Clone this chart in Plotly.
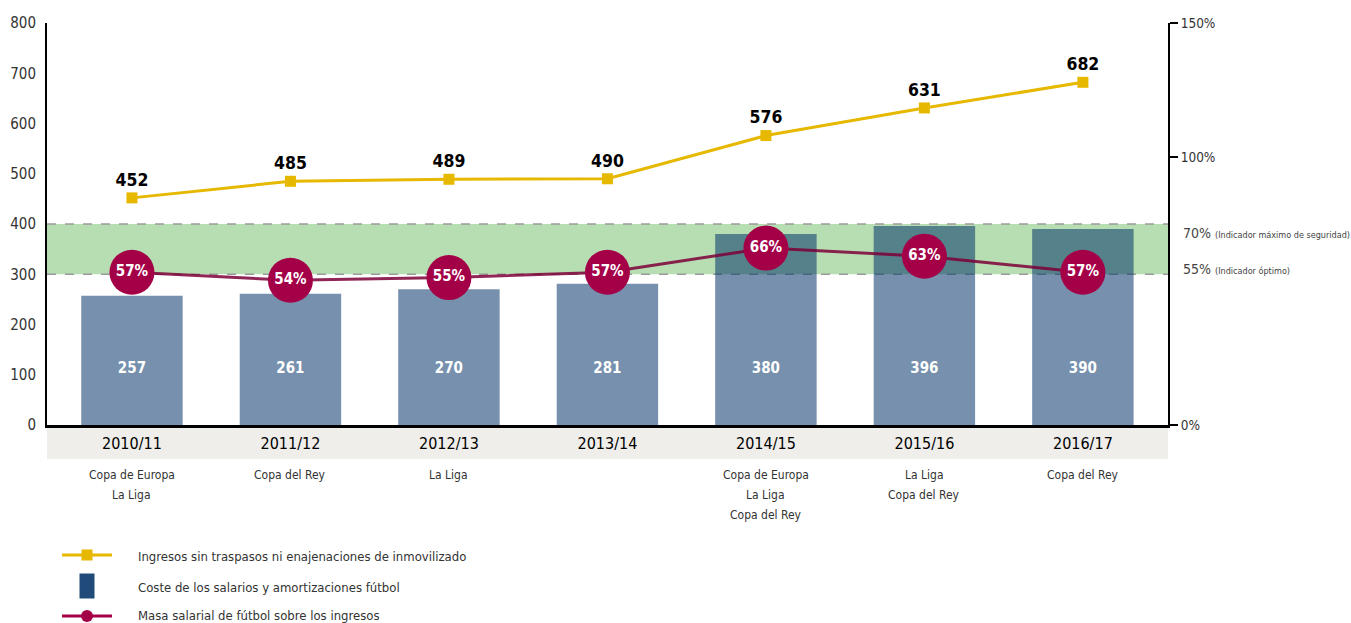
import plotly.graph_objects as go

# ---- data -------------------------------------------------------------
temporadas = ["2010/11", "2011/12", "2012/13", "2013/14", "2014/15", "2015/16", "2016/17"]
ingresos = [452, 485, 489, 490, 576, 631, 682]          # M€, left axis
coste_salarios = [257, 261, 270, 281, 380, 396, 390]     # M€, left axis
masa_salarial_pct = [57, 54, 55, 57, 66, 63, 57]         # %, right axis
titulos = [
    ["Copa de Europa", "La Liga"],
    ["Copa del Rey"],
    ["La Liga"],
    [],
    ["Copa de Europa", "La Liga", "Copa del Rey"],
    ["La Liga", "Copa del Rey"],
    ["Copa del Rey"],
]
banda_inferior, banda_superior = 300, 400   # safety band on the left scale
ticks_izq = list(range(0, 801, 100))
ticks_der = [0, 100, 150]

# ---- style ------------------------------------------------------------
FONT = "DejaVu Sans Condensed, DejaVu Sans, sans-serif"
C_BAR = "rgba(6,53,106,0.55)"
C_BAND = "#b7ddb2"
C_YELLOW = "#e6b800"
C_CIRCLE = "#a40048"
C_PLINE = "rgba(125,0,55,0.85)"
C_TEXT = "#333333"
X_RANGE = [-0.536, 6.537]
BAR_LABEL_Y = 111

W, H = 1351, 623
ML, MR, MT, MB = 47, 183, 23, 198
PW, PH = W - ML - MR, H - MT - MB

def px_x(px):
    return (px - ML) / PW

def px_y(py):
    return (H - MB - py) / PH

x = list(range(len(temporadas)))

fig = go.Figure()

# salary cost bars (translucent so the band shows through)
fig.add_trace(go.Bar(
    x=x, y=coste_salarios, marker=dict(color=C_BAR, line=dict(width=0)),
    width=0.64, yaxis="y", hoverinfo="skip",
))

# bar value labels
fig.add_trace(go.Scatter(
    x=x, y=[BAR_LABEL_Y] * len(x), mode="text",
    text=[str(v) for v in coste_salarios],
    textfont=dict(family=FONT, size=15, color="white", weight="bold"),
    hoverinfo="skip", yaxis="y",
))

# income line
fig.add_trace(go.Scatter(
    x=x, y=ingresos, mode="lines+markers+text",
    line=dict(color=C_YELLOW, width=3),
    marker=dict(symbol="square", size=11, color=C_YELLOW),
    text=[str(v) for v in ingresos], textposition="top center",
    textfont=dict(family=FONT, size=17.5, color="black", weight="bold"),
    cliponaxis=False, hoverinfo="skip", yaxis="y",
))

# wage ratio line (right axis)
fig.add_trace(go.Scatter(
    x=x, y=masa_salarial_pct, mode="lines",
    line=dict(color=C_PLINE, width=3),
    hoverinfo="skip", yaxis="y2",
))
fig.add_trace(go.Scatter(
    x=x, y=masa_salarial_pct, mode="markers+text",
    marker=dict(size=45, color=C_CIRCLE, line=dict(width=0)),
    text=[f"{v}%" for v in masa_salarial_pct], textposition="middle center",
    textfont=dict(family=FONT, size=15, color="white", weight="bold"),
    cliponaxis=False, hoverinfo="skip", yaxis="y2",
))

shapes = []
# grey strip behind the season labels
shapes.append(dict(type="rect", xref="paper", yref="paper", x0=0, x1=1,
                   y0=px_y(459), y1=0, fillcolor="#efeeea", line=dict(width=0),
                   layer="below"))
# safety band
shapes.append(dict(type="rect", xref="paper", yref="y", x0=0, x1=1,
                   y0=banda_inferior, y1=banda_superior, fillcolor=C_BAND,
                   line=dict(width=0), layer="below"))
# dashed band edges
for v in (banda_inferior, banda_superior):
    shapes.append(dict(type="line", xref="paper", yref="y", x0=0, x1=1, y0=v, y1=v,
                       line=dict(color="#9a9a9a", width=1.5, dash="dash"), layer="below"))

annotations = []
# titles won under each season
for i, lines in enumerate(titulos):
    for j, t in enumerate(lines):
        annotations.append(dict(
            x=i, xref="x", y=px_y(475 + 20 * j), yref="paper", text=t,
            showarrow=False, xanchor="center", yanchor="middle",
            font=dict(family=FONT, size=12, color=C_TEXT),
        ))

# band annotations on the right
for py, pct, lab in ((233, "70%", "(Indicador máximo de seguridad)"),
                     (269, "55%", "(Indicador óptimo)")):
    annotations.append(dict(
        x=px_x(1181), xref="paper", y=px_y(py), yref="paper",
        text=f'<span style="font-size:14px">{pct}</span> <span style="font-size:9px">{lab}</span>',
        showarrow=False, xanchor="left", yanchor="middle",
        font=dict(family=FONT, size=14, color="#444444"),
    ))

# legend
LX0, LX1, LXC = 62, 112, 87
legend_rows = [
    (556, "Ingresos sin traspasos ni enajenaciones de inmovilizado"),
    (587, "Coste de los salarios y amortizaciones fútbol"),
    (615, "Masa salarial de fútbol sobre los ingresos"),
]
shapes.append(dict(type="line", xref="paper", yref="paper",
                   x0=px_x(LX0), x1=px_x(LX1), y0=px_y(555), y1=px_y(555),
                   line=dict(color=C_YELLOW, width=3)))
shapes.append(dict(type="rect", xref="paper", yref="paper",
                   xsizemode="pixel", ysizemode="pixel",
                   xanchor=px_x(LXC), yanchor=px_y(555),
                   x0=-5.5, x1=5.5, y0=-5.5, y1=5.5,
                   fillcolor=C_YELLOW, line=dict(width=0)))
shapes.append(dict(type="rect", xref="paper", yref="paper",
                   xsizemode="pixel", ysizemode="pixel",
                   xanchor=px_x(LXC), yanchor=px_y(586),
                   x0=-7.5, x1=7.5, y0=-12.5, y1=12.5,
                   fillcolor="#1f4a7a", line=dict(width=0)))
shapes.append(dict(type="line", xref="paper", yref="paper",
                   x0=px_x(LX0), x1=px_x(LX1), y0=px_y(616), y1=px_y(616),
                   line=dict(color=C_CIRCLE, width=3)))
shapes.append(dict(type="circle", xref="paper", yref="paper",
                   xsizemode="pixel", ysizemode="pixel",
                   xanchor=px_x(LXC), yanchor=px_y(616),
                   x0=-6, x1=6, y0=-6, y1=6,
                   fillcolor=C_CIRCLE, line=dict(width=0)))
for py, t in legend_rows:
    annotations.append(dict(
        x=px_x(136), xref="paper", y=px_y(py), yref="paper", text=t,
        showarrow=False, xanchor="left", yanchor="middle",
        font=dict(family=FONT, size=13, color=C_TEXT),
    ))

fig.update_layout(
    width=W, height=H,
    margin=dict(l=ML, r=MR, t=MT, b=MB, pad=0),
    paper_bgcolor="white", plot_bgcolor="white",
    showlegend=False,
    font=dict(family=FONT, color=C_TEXT),
    xaxis=dict(
        range=X_RANGE, tickvals=x, ticktext=temporadas, automargin=False,
        showgrid=False, zeroline=False, showline=True, linecolor="black", linewidth=2.5,
        ticks="outside", ticklen=2, tickcolor="rgba(0,0,0,0)",
        tickfont=dict(family=FONT, size=16, color="black"),
    ),
    yaxis=dict(
        range=[0, 800], tickvals=ticks_izq, automargin=False,
        showgrid=False, zeroline=False, showline=True, linecolor="black", linewidth=2,
        ticks="outside", ticklen=6, tickcolor="rgba(0,0,0,0)",
        tickfont=dict(family=FONT, size=15, color=C_TEXT),
    ),
    yaxis2=dict(
        range=[0, 150], overlaying="y", side="right", automargin=False,
        tickvals=ticks_der, ticktext=[f"{v}%" for v in ticks_der],
        showgrid=False, zeroline=False, showline=True, linecolor="black", linewidth=2,
        ticks="outside", ticklen=8, tickcolor="black", tickwidth=2,
        tickfont=dict(family=FONT, size=13.5, color=C_TEXT),
    ),
    shapes=shapes, annotations=annotations,
)

fig.write_html("out.html")
